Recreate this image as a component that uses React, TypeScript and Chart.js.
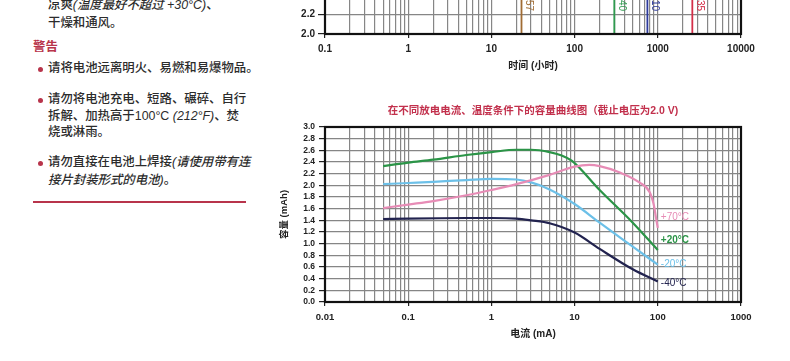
import React, { useEffect, useRef } from "react";
import { Chart, registerables } from "chart.js";

Chart.register(...registerables);

const FONT = "'Liberation Sans', 'Noto Sans CJK SC', Arial, sans-serif";

// ---------- top chart (voltage vs. time, only lower part visible) ----------
const lifeHours = [23, 300, 750, 2600];
const lifeLabels = ["57", "40", "10", "35"];
const lifeColors = ["#a06c34", "#2f9a4f", "#2c3a9c", "#d42e48"];
const lifeVoltLow = 2.0;
const lifeVoltHigh = 2.6;
const topXMajors = [0.1, 1, 10, 100, 1000, 10000];
const topXLabels = ["0.1", "1", "10", "100", "1000", "10000"];
const topYTicks = [2.0, 2.2, 2.4];

// ---------- bottom chart (capacity vs. current) ----------
const current70 = [0.05, 0.1, 0.2, 0.5, 1, 2, 5, 10, 15, 20, 35, 60, 80, 90, 95, 100];
const cap70 = [1.61, 1.67, 1.73, 1.83, 1.92, 2.02, 2.18, 2.32, 2.35, 2.33, 2.22, 2.05, 1.88, 1.65, 1.45, 1.27];
const current20 = [0.05, 0.1, 0.2, 0.5, 1, 2, 3, 5, 7, 9.3, 20, 50, 100];
const cap20 = [2.33, 2.39, 2.44, 2.52, 2.57, 2.61, 2.61, 2.57, 2.51, 2.42, 1.92, 1.36, 0.89];
const currentM20 = [0.05, 0.1, 0.2, 0.5, 1, 2, 3, 5, 10, 20, 50, 100];
const capM20 = [2.02, 2.04, 2.06, 2.09, 2.11, 2.1, 2.05, 1.93, 1.68, 1.36, 0.95, 0.64];
const currentM40 = [0.05, 0.1, 0.5, 1, 2, 3, 5, 10, 20, 50, 100];
const capM40 = [1.42, 1.43, 1.44, 1.44, 1.43, 1.4, 1.35, 1.19, 0.91, 0.56, 0.35];
const seriesNames = ["+70°C", "+20°C", "-20°C", "-40°C"];
const seriesColors = ["#e78cb6", "#2b9447", "#6cc0e8", "#22234f"];
const botXMajors = [0.01, 0.1, 1, 10, 100, 1000];
const botXLabels = ["0.01", "0.1", "1", "10", "100", "1000"];
const botYTicks = [0, 0.2, 0.4, 0.6, 0.8, 1.0, 1.2, 1.4, 1.6, 1.8, 2.0, 2.2, 2.4, 2.6, 2.8, 3.0];

const GRID = "#868686";
const GRID_W = 1.2;

function logGrid(min: number, max: number) {
  const out: { value: number; major: boolean }[] = [];
  for (let k = Math.floor(Math.log10(min)); k <= Math.ceil(Math.log10(max)); k++) {
    for (let m = 1; m <= 9; m++) {
      const v = +(m * Math.pow(10, k)).toPrecision(6);
      if (v >= min * 0.9999 && v <= max * 1.0001) out.push({ value: v, major: m === 1 });
    }
  }
  return out;
}

function majorIndex(majors: number[], v: number) {
  return majors.findIndex((m) => Math.abs(m - v) / m < 1e-6);
}

const framePlugin = {
  id: "frame",
  afterDatasetsDraw(chart: any) {
    const { ctx, chartArea } = chart;
    const { left, top, right, bottom } = chartArea;
    ctx.save();
    ctx.strokeStyle = "#111";
    ctx.lineWidth = 2.2;
    ctx.strokeRect(left, top, right - left, bottom - top);
    ctx.restore();
  },
};

function TopChart() {
  const ref = useRef<HTMLCanvasElement>(null);
  useEffect(() => {
    const labelPlugin = {
      id: "lifeLabels",
      afterDatasetsDraw(chart: any) {
        const { ctx, chartArea } = chart;
        const xs = chart.scales.x;
        ctx.save();
        ctx.font = `10px ${FONT}`;
        lifeHours.forEach((h, i) => {
          const px = xs.getPixelForValue(h) + 7;
          ctx.save();
          ctx.translate(px, chartArea.top + 5);
          ctx.rotate(Math.PI / 2);
          ctx.fillStyle = lifeColors[i];
          ctx.textAlign = "left";
          ctx.textBaseline = "middle";
          ctx.fillText(lifeLabels[i], 0, 0);
          ctx.restore();
        });
        ctx.restore();
      },
    };
    const chart = new Chart(ref.current!, {
      type: "line",
      data: {
        datasets: lifeHours.map((h, i) => ({
          data: [
            { x: h, y: lifeVoltLow },
            { x: h, y: lifeVoltHigh },
          ],
          borderColor: lifeColors[i],
          borderWidth: 1.8,
          pointRadius: 0,
        })),
      },
      options: {
        animation: false,
        responsive: false,
        layout: { padding: { top: 15, right: 29, bottom: 0, left: 0 } },
        plugins: { legend: { display: false }, tooltip: { enabled: false }, title: { display: false } },
        scales: {
          x: {
            type: "logarithmic",
            min: 0.1,
            max: 10000,
            afterBuildTicks: (s: any) => {
              s.ticks = logGrid(0.1, 10000);
            },
            afterFit: (s: any) => {
              s.height = 46;
            },
            border: { display: false },
            grid: {
              color: GRID,
              lineWidth: GRID_W,
              tickLength: 4,
              tickColor: (c: any) => (c.tick && majorIndex(topXMajors, c.tick.value) >= 0 ? "#222" : "rgba(0,0,0,0)"),
            },
            ticks: {
              autoSkip: false,
              maxRotation: 0,
              padding: 5,
              color: "#222",
              font: { family: FONT, size: 10, weight: "bold" },
              callback: (v: any) => {
                const i = majorIndex(topXMajors, Number(v));
                return i >= 0 ? topXLabels[i] : "";
              },
            },
            title: {
              display: true,
              text: "时间 (小时)",
              color: "#222",
              font: { family: FONT, size: 10, weight: "bold" },
              padding: { top: 0, bottom: 8 },
            },
          },
          y: {
            min: 2.0,
            max: 2.4,
            afterBuildTicks: (s: any) => {
              s.ticks = topYTicks.map((v) => ({ value: v }));
            },
            afterFit: (s: any) => {
              s.width = 55;
            },
            border: { display: false },
            grid: { color: GRID, lineWidth: GRID_W, tickLength: 7, tickColor: "#222" },
            ticks: {
              autoSkip: false,
              padding: 3,
              color: "#222",
              font: { family: FONT, size: 10, weight: "bold" },
              callback: (v: any) => Number(v).toFixed(1),
            },
          },
        },
      },
      plugins: [framePlugin, labelPlugin],
    } as any);
    return () => chart.destroy();
  }, []);
  return (
    <canvas
      ref={ref}
      width={500}
      height={100}
      style={{ position: "absolute", left: 270, top: -20, width: 500, height: 100 }}
    />
  );
}

function BottomChart() {
  const ref = useRef<HTMLCanvasElement>(null);
  useEffect(() => {
    const xsArr = [current70, current20, currentM20, currentM40];
    const ysArr = [cap70, cap20, capM20, capM40];
    const labelDy = [-11, -10, 0, 2];
    const endLabelPlugin = {
      id: "endLabels",
      afterDatasetsDraw(chart: any) {
        const { ctx } = chart;
        const xs = chart.scales.x;
        const ys = chart.scales.y;
        ctx.save();
        ctx.textAlign = "left";
        ctx.textBaseline = "middle";
        seriesNames.forEach((name, i) => {
          const xv = xsArr[i][xsArr[i].length - 1];
          const yv = ysArr[i][ysArr[i].length - 1];
          ctx.font = `${i === 1 ? "bold " : ""}10px ${FONT}`;
          ctx.fillStyle = seriesColors[i];
          ctx.fillText(name, xs.getPixelForValue(xv) + 3, ys.getPixelForValue(yv) + labelDy[i]);
        });
        ctx.restore();
      },
    };
    const chart = new Chart(ref.current!, {
      type: "line",
      data: {
        datasets: seriesNames.map((n, i) => ({
          label: n,
          data: xsArr[i].map((x, j) => ({ x, y: ysArr[i][j] })),
          borderColor: seriesColors[i],
          borderWidth: 2.2,
          pointRadius: 0,
          cubicInterpolationMode: "monotone",
        })),
      },
      options: {
        animation: false,
        responsive: false,
        layout: { padding: { top: 0, right: 39, bottom: 0, left: 0 } },
        plugins: {
          legend: { display: false },
          tooltip: { enabled: false },
          title: {
            display: true,
            fullSize: false,
            text: "在不同放电电流、温度条件下的容量曲线图（截止电压为2.0 V)",
            color: "#c2304c",
            font: { family: FONT, size: 10.5, weight: "bold" },
            padding: { top: 10, bottom: 9.4 },
          },
        },
        scales: {
          x: {
            type: "logarithmic",
            min: 0.01,
            max: 1000,
            afterBuildTicks: (s: any) => {
              s.ticks = logGrid(0.01, 1000);
            },
            afterFit: (s: any) => {
              s.height = 59;
            },
            border: { display: false },
            grid: {
              color: GRID,
              lineWidth: GRID_W,
              tickLength: 4,
              tickColor: (c: any) => (c.tick && majorIndex(botXMajors, c.tick.value) >= 0 ? "#222" : "rgba(0,0,0,0)"),
            },
            ticks: {
              autoSkip: false,
              maxRotation: 0,
              padding: 6,
              color: "#222",
              font: { family: FONT, size: 9.5, weight: "bold" },
              callback: (v: any) => {
                const i = majorIndex(botXMajors, Number(v));
                return i >= 0 ? botXLabels[i] : "";
              },
            },
            title: {
              display: true,
              text: "电流 (mA)",
              color: "#222",
              font: { family: FONT, size: 10, weight: "bold" },
              padding: { top: 0, bottom: 21 },
            },
          },
          y: {
            min: 0,
            max: 3,
            afterBuildTicks: (s: any) => {
              s.ticks = botYTicks.map((v) => ({ value: v }));
            },
            ticks: {
              autoSkip: false,
              padding: 4,
              color: "#222",
              font: { family: FONT, size: 8.5, weight: "bold" },
              callback: (v: any) => Number(v).toFixed(1),
            },
            afterFit: (s: any) => {
              s.width = 55;
            },
            border: { display: false },
            grid: { color: GRID, lineWidth: GRID_W, tickLength: 6, tickColor: "#222" },
            title: {
              display: true,
              text: "容量 (mAh)",
              color: "#222",
              font: { family: FONT, size: 9.5, weight: "bold" },
              padding: { top: 9, bottom: 0 },
            },
          },
        },
      },
      plugins: [framePlugin, endLabelPlugin],
    } as any);
    return () => chart.destroy();
  }, []);
  return (
    <canvas
      ref={ref}
      width={510}
      height={266}
      style={{ position: "absolute", left: 270, top: 95, width: 510, height: 266 }}
    />
  );
}

const RED = "#b8344b";

function Line({ top, left, children }: { top: number; left: number; children: any }) {
  return (
    <div
      style={{
        position: "absolute",
        top,
        left,
        whiteSpace: "nowrap",
        lineHeight: "16px",
        fontSize: 12.4,
        fontWeight: 500,
        color: "#2c2c2c",
        fontFamily: FONT,
      }}
    >
      {children}
    </div>
  );
}

function Dot({ cy }: { cy: number }) {
  return (
    <div
      style={{
        position: "absolute",
        left: 38,
        top: cy - 2.5,
        width: 5,
        height: 5,
        borderRadius: "50%",
        background: RED,
      }}
    />
  );
}

function LeftText() {
  return (
    <>
      <Line top={-3} left={48}>
        凉爽<i>(温度最好不超过 +30°C)</i>、
      </Line>
      <Line top={15} left={48}>
        干燥和通风。
      </Line>
      <Line top={39} left={33}>
        <span style={{ color: RED, fontWeight: "bold" }}>警告</span>
      </Line>
      <Dot cy={69} />
      <Line top={60} left={48}>
        请将电池远离明火、易燃和易爆物品。
      </Line>
      <Dot cy={100} />
      <Line top={91} left={48}>
        请勿将电池充电、短路、碾碎、自行
      </Line>
      <Line top={108} left={48}>
        拆解、加热高于100°C <i>(212°F)</i>、焚
      </Line>
      <Line top={124} left={48}>
        烧或淋雨。
      </Line>
      <Dot cy={163} />
      <Line top={154} left={48}>
        请勿直接在电池上焊接<i>(请使用带有连</i>
      </Line>
      <Line top={172} left={48}>
        <i>接片封装形式的电池)</i>。
      </Line>
      <div style={{ position: "absolute", left: 33, top: 201, width: 213, height: 2, background: RED }} />
    </>
  );
}

export default function App() {
  return (
    <div
      style={{
        position: "fixed",
        left: 0,
        top: 0,
        width: 790,
        height: 361,
        overflow: "hidden",
        background: "#fff",
      }}
    >
      <LeftText />
      <TopChart />
      <BottomChart />
    </div>
  );
}
